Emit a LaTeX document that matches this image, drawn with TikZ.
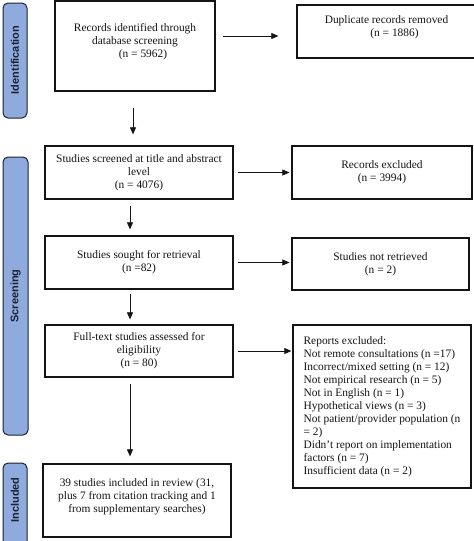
\documentclass[tikz,border=0pt]{standalone}
\usepackage{fontspec}
\setmainfont{Liberation Serif}
\newfontfamily\labelfont{Liberation Sans}
\usetikzlibrary{arrows.meta}
\definecolor{sideblue}{HTML}{8FAADC}
\definecolor{sideline}{HTML}{1C2233}
\definecolor{ink}{HTML}{141414}
\newcommand\dn[1]{\rule[-#1]{0pt}{#1}}
\tikzset{
  flowbox/.style={draw=ink, line width=1.3pt, fill=white, align=center, inner sep=2pt,
    font=\fontsize{11.4}{13}\selectfont, text=ink},
  sidebox/.style={draw=sideline, line width=1pt, fill=sideblue, rounded corners=5pt},
  sidetext/.style={rotate=90, font=\labelfont\bfseries\fontsize{11}{12}\selectfont, text=sideline},
  arr/.style={draw=ink, line width=0.7pt, -{Triangle[length=7pt,width=6pt]}},
}
\begin{document}
\begin{tikzpicture}[x=1pt,y=-1pt]
\useasboundingbox (0,0) rectangle (474,541);
\clip (0,0) rectangle (474,541);
\fill[white] (0,0) rectangle (474,541);

% side phase boxes
\draw[sidebox] (3,3) rectangle (27,118);
\node[sidetext] (lid) at (15,60) {Identification};
\draw[sidebox] (3,157) rectangle (28,435);
\node[sidetext] (lsc) at (15.5,296) {Screening};
\draw[sidebox] (3,463) rectangle (27,560);
\node[sidetext] (lin) at (15,500) {Included};

% main boxes
\node[flowbox, minimum width=160pt, minimum height=90pt] (b1) at (135,46)
  {Records identified through\\database screening\\\hspace*{16pt}(n = 5962)\dn{12pt}};
\node[flowbox, minimum width=179pt, minimum height=53pt] (dup) at (386.5,31.5)
  {Duplicate records removed\\\hspace*{16pt}(n = 1886)\dn{10pt}};
\node[flowbox, minimum width=188pt, minimum height=53pt] (b2) at (139,172.5)
  {Studies screened at title and abstract\\level\\(n = 4076)};
\node[flowbox, minimum width=180pt, minimum height=53pt] (excl) at (382,172.5)
  {Records excluded\\(n = 3994)};
\node[flowbox, minimum width=188pt, minimum height=53pt] (b3) at (139,262.5)
  {Studies sought for retrieval\\(n =82)};
\node[flowbox, minimum width=177pt, minimum height=52pt] (notret) at (380.5,264)
  {Studies not retrieved\\(n = 2)};
\node[flowbox, minimum width=188pt, minimum height=52pt] (b4) at (139,351)
  {Full-text studies assessed for\\eligibility\\(n = 80)};
\node[flowbox, align=left, minimum width=178pt, minimum height=163pt] (rep) at (382,406.5)
  {Reports excluded:\\Not remote consultations (n =17)\\Incorrect/mixed setting (n = 12)\\Not empirical research (n = 5)\\Not in English (n = 1)\\Hypothetical views (n = 3)\\Not patient/provider population (n\\= 2)\\Didn’t report on implementation\\factors (n = 7)\\Insufficient data (n = 2)};
\node[flowbox, minimum width=188pt, minimum height=73pt] (b5) at (137,500.5)
  {39 studies included in review (31,\\plus 7 from citation tracking and 1\\from supplementary searches)\dn{10pt}};

% horizontal arrows
\draw[arr] ([xshift=7pt,yshift=10pt]b1.east) -- ([xshift=-18pt,yshift=-4.5pt]dup.west);
\draw[arr, shorten <=4pt, shorten >=2pt] (b2.east) -- (excl.west);
\draw[arr, shorten <=4pt, shorten >=2pt] (b3.east) -- (b3.east -| notret.west);
\draw[arr, shorten <=4pt, shorten >=1pt] (b4.east) -- (b4.east -| rep.west);

% vertical arrows
\draw[arr] ([xshift=-2pt,yshift=-16pt]b1.south) -- ([xshift=-6pt,yshift=11pt]b2.north);
\draw[arr] ([xshift=-9pt,yshift=-6pt]b2.south) -- ([xshift=-9pt,yshift=6pt]b3.north);
\draw[arr] ([xshift=-9pt,yshift=-4pt]b3.south) -- ([xshift=-9pt,yshift=5pt]b4.north);
\draw[arr] ([xshift=-9pt,yshift=-6pt]b4.south) -- ([xshift=-7pt,yshift=7pt]b5.north);
\end{tikzpicture}
\end{document}
